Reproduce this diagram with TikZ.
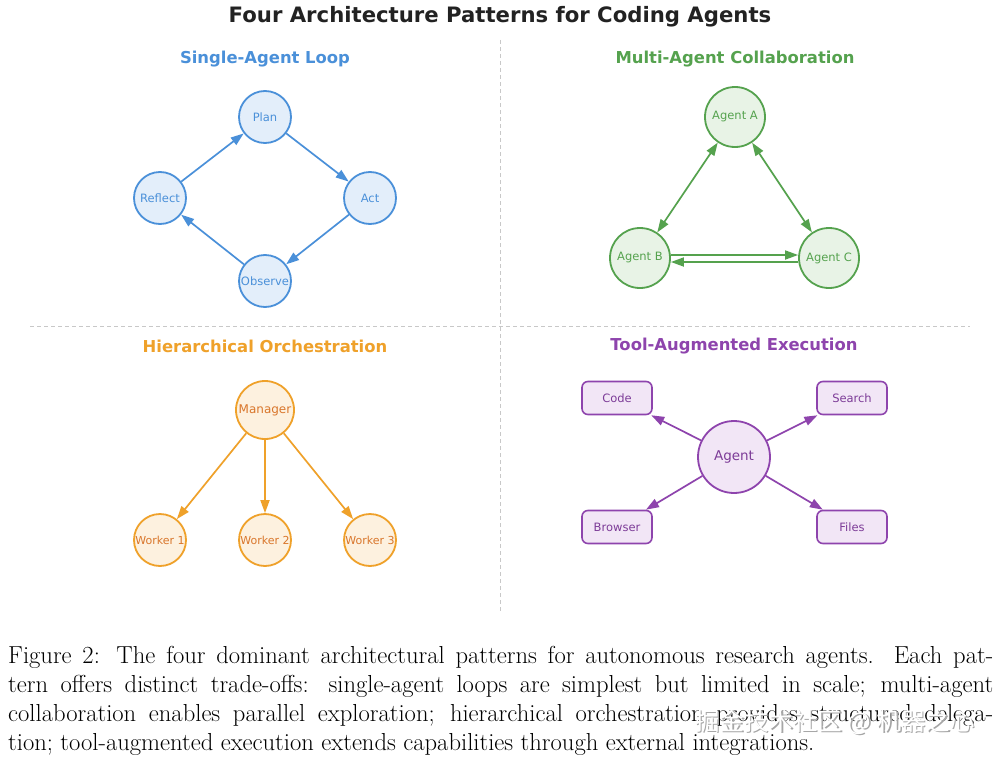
\documentclass[tikz,border=0pt]{standalone}
\usepackage{fontspec}
\usetikzlibrary{arrows.meta,positioning,shapes.geometric}
\newfontfamily\dejavu{DejaVu Sans}
\newfontfamily\cjk{Noto Sans CJK SC}
\definecolor{loopblue}{HTML}{4A90D9}
\definecolor{loopfill}{HTML}{E3EEFA}
\definecolor{collabgreen}{HTML}{55A24E}
\definecolor{collabfill}{HTML}{E8F3E6}
\definecolor{orchorange}{HTML}{EFA12A}
\definecolor{orchfill}{HTML}{FDF1DF}
\definecolor{orchtext}{HTML}{D9762B}
\definecolor{toolpurple}{HTML}{8E44AD}
\definecolor{toolfill}{HTML}{F2E6F6}
\definecolor{tooltext}{HTML}{7D3C98}
\definecolor{divgray}{HTML}{C8C8C8}
\definecolor{headink}{HTML}{222222}

\tikzset{
  dv/.style={font=\dejavu\fontsize{#1}{#1}\selectfont},
  panelhead/.style={font=\dejavu\bfseries\fontsize{16.4}{18}\selectfont},
  divider/.style={divgray,line width=1pt,dash pattern=on 4pt off 3pt},
  flow/.style={-{Triangle[length=13pt,width=9pt]},line width=1.7pt},
  twoway/.style={{Triangle[length=13pt,width=9pt]}-{Triangle[length=13pt,width=9pt]},line width=1.7pt},
  loopnode/.style={circle,draw=loopblue,fill=loopfill,line width=1.8pt,
    minimum size=52pt,inner sep=0pt,text=loopblue,dv=11.5},
  peer/.style={circle,draw=collabgreen,fill=collabfill,line width=1.8pt,
    minimum size=60pt,inner sep=0pt,text=collabgreen,dv=11.5},
  boss/.style={circle,draw=orchorange,fill=orchfill,line width=1.8pt,
    minimum size=58pt,inner sep=0pt,text=orchtext,dv=12},
  worker/.style={boss,minimum size=52pt,dv=11},
  hub/.style={circle,draw=toolpurple,fill=toolfill,line width=1.8pt,
    minimum size=72pt,inner sep=0pt,text=tooltext,dv=13.5},
  toolbox/.style={rectangle,rounded corners=6pt,draw=toolpurple,fill=toolfill,
    line width=1.6pt,minimum width=70pt,minimum height=33pt,inner sep=0pt,
    text=tooltext,dv=11.5}
}

\begin{document}
\begin{tikzpicture}[x=1pt,y=-1pt]
  \useasboundingbox[fill=white] (0,0) rectangle (1001,760);

  % title and dividers
  \node[headink,font=\dejavu\bfseries\fontsize{21.2}{24}\selectfont] (title) at (500,17)
    {Four Architecture Patterns for Coding Agents};
  \coordinate (vtop) at (500,40);
  \coordinate (vbot) at (500,612);
  \coordinate (hleft) at (30,326);
  \coordinate (hright) at (970,326);
  \draw[divider] (vtop) -- (vbot);
  \draw[divider] (hleft) -- (hright);

  % single-agent loop
  \node[panelhead,loopblue] (loophead) at (265,59) {Single-Agent Loop};
  \node[loopnode] (plan) at (265,117) {Plan};
  \node[loopnode] (act) at (370,198) {Act};
  \node[loopnode] (observe) at (265,281) {Observe};
  \node[loopnode] (reflect) at (160,198) {Reflect};
  \draw[flow,loopblue] (reflect) -- (plan);
  \draw[flow,loopblue] (plan) -- (act);
  \draw[flow,loopblue] (act) -- (observe);
  \draw[flow,loopblue] (observe) -- (reflect);

  % multi-agent collaboration
  \node[panelhead,collabgreen] (collabhead) at (735,59) {Multi-Agent Collaboration};
  \node[peer] (agA) at (735,117) {Agent A};
  \node[peer] (agB) at (640,258) {Agent B};
  \node[peer] (agC) at (829,258) {Agent C};
  \draw[twoway,collabgreen] (agA) -- (agB);
  \draw[twoway,collabgreen] (agA) -- (agC);
  \draw[flow,collabgreen] ([yshift=3pt]agB.east) -- ([yshift=3pt]agC.west);
  \draw[flow,collabgreen] ([yshift=-4pt]agC.west) -- ([yshift=-4pt]agB.east);

  % hierarchical orchestration
  \node[panelhead,orchorange] (orchhead) at (265,346) {Hierarchical Orchestration};
  \node[boss] (mgr) at (265,410) {Manager};
  \node[worker] (w1) at (160,540) {Worker 1};
  \node[worker] (w2) at (265,540) {Worker 2};
  \node[worker] (w3) at (370,540) {Worker 3};
  \foreach \w in {w1,w2,w3}
    \draw[flow,orchorange] (mgr) -- (\w);

  % tool-augmented execution
  \node[panelhead,toolpurple] (toolhead) at (734,346) {Tool-Augmented Execution};
  \node[hub] (agent) at (734,457) {Agent};
  \node[toolbox] (code) at (617,398) {Code};
  \node[toolbox] (search) at (852,398) {Search};
  \node[toolbox] (browser) at (617,527) {Browser};
  \node[toolbox] (files) at (852,527) {Files};
  \foreach \t in {code,search,browser,files}
    \draw[flow,toolpurple] (agent) -- (\t);

  % caption
  \node[anchor=north west,inner sep=0pt,text width=985pt,align=justify,
    font=\fontsize{24.6}{29}\selectfont] (caption) at (8,646)
    {\emergencystretch=3em Figure 2: The four dominant architectural patterns for autonomous research agents. Each pat-\linebreak
     tern offers distinct trade-offs: single-agent loops are simplest but limited in scale; multi-agent\linebreak
     collaboration enables parallel exploration; hierarchical orchestration provides structured delega-\linebreak
     tion; tool-augmented execution extends capabilities through external integrations.};

  % watermark
  \node[gray!70,font=\cjk\fontsize{24.5}{25}\selectfont] (wmshadow) at (836.5,723.5) {掘金技术社区 @ 机器之心};
  \node[white,font=\cjk\fontsize{24.5}{25}\selectfont] (wm) at (835,722) {掘金技术社区 @ 机器之心};
\end{tikzpicture}
\end{document}
